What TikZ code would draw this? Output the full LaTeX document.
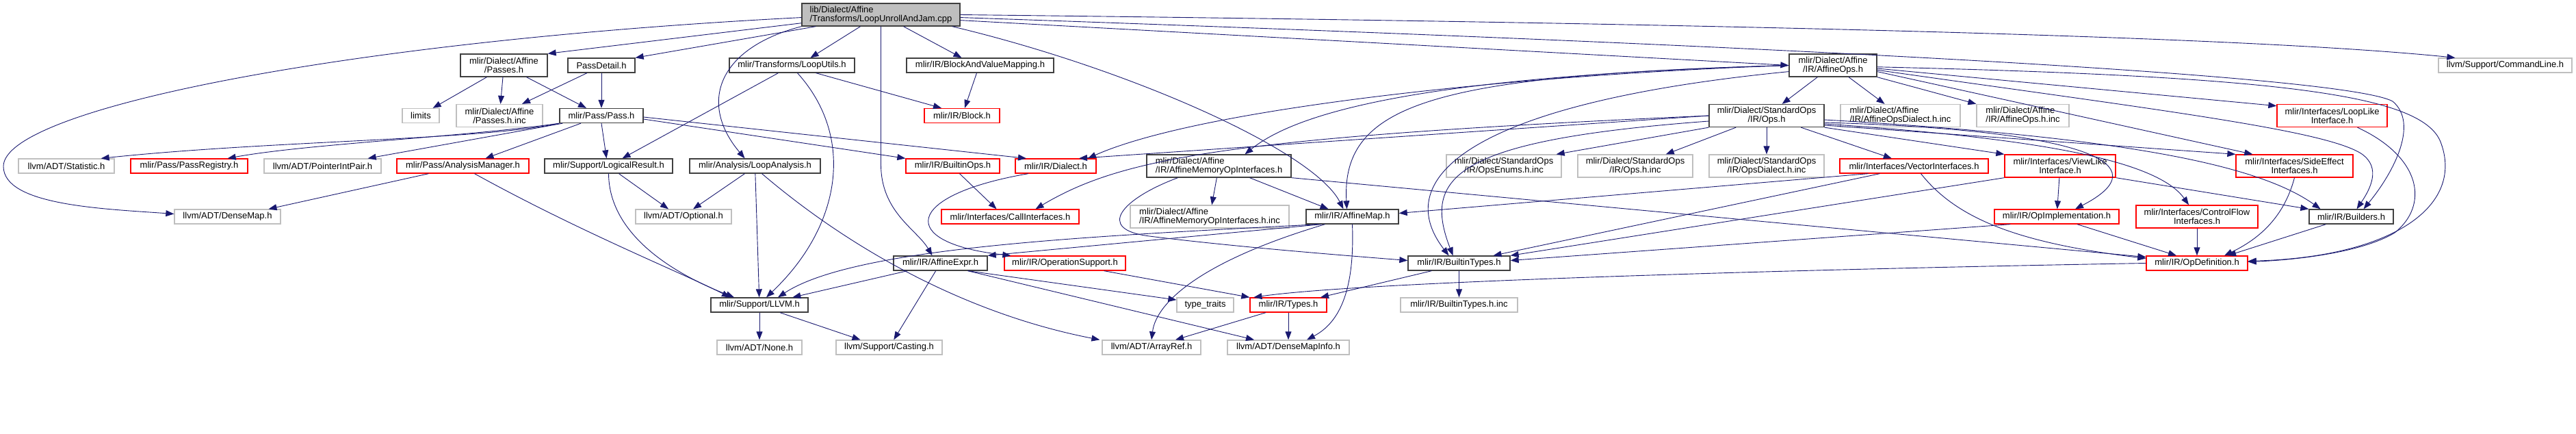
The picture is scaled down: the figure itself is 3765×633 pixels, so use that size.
\documentclass[tikz,border=0pt]{standalone}
\usepackage{fontspec}
\setmainfont{Liberation Sans}
\usetikzlibrary{arrows.meta}
\definecolor{edgeblue}{HTML}{191970}
\definecolor{boxdark}{HTML}{404040}
\definecolor{boxgray}{HTML}{BFBFBF}
\definecolor{boxred}{HTML}{FF0000}

\begin{document}
\begin{tikzpicture}[x=1pt, y=-1pt,
    hdr/.style={rectangle, draw, line width=1.3pt, inner sep=0pt, minimum height=21pt,
        font=\fontsize{13}{13}\selectfont},
    doc/.style={hdr, draw=boxdark},
    ext/.style={hdr, draw=boxgray},
    trunc/.style={hdr, draw=boxred},
    two/.style={minimum height=33pt, align=center},
    twol/.style={minimum height=33pt, align=left},
    incl/.style={-{Triangle[length=12pt, width=9pt]}, draw=edgeblue, line width=0.9pt}]

    \useasboundingbox (0,0) rectangle (3765,633);

    % Source file
    \node[hdr, draw=boxdark, fill=boxgray, twol, minimum width=231pt] (root) at (1287.5,21.5) {lib/Dialect/Affine\\/Transforms/LoopUnrollAndJam.cpp};

    % Row 1
    \node[doc, two, minimum width=127pt] (passes) at (736.5,95.5) {mlir/Dialect/Affine\\/Passes.h};
    \node[doc, minimum width=98pt] (passdetail) at (879,95.5) {PassDetail.h};
    \node[doc, minimum width=183pt] (looputils) at (1157.5,95.5) {mlir/Transforms/LoopUtils.h};
    \node[doc, minimum width=215pt] (bvmap) at (1432.5,95.5) {mlir/IR/BlockAndValueMapping.h};
    \node[doc, two, minimum width=128pt] (affineops) at (2679,95.5) {mlir/Dialect/Affine\\/IR/AffineOps.h};
    \node[ext, minimum width=195pt] (cmdline) at (3661.5,95.5) {llvm/Support/CommandLine.h};

    % Row 2
    \node[ext, minimum width=54pt] (limits) at (615,169) {limits};
    \node[ext, two, minimum width=126pt] (passesinc) at (730,169) {mlir/Dialect/Affine\\/Passes.h.inc};
    \node[doc, minimum width=122pt] (pass) at (879,169) {mlir/Pass/Pass.h};
    \node[trunc, minimum width=110pt] (block) at (1406,169) {mlir/IR/Block.h};
    \node[doc, two, minimum width=168pt] (stdops) at (2582,169) {mlir/Dialect/StandardOps\\/IR/Ops.h};
    \node[ext, twol, minimum width=175pt] (aodialectinc) at (2777.5,169) {mlir/Dialect/Affine\\/IR/AffineOpsDialect.h.inc};
    \node[ext, twol, minimum width=135pt] (aoinc) at (2956.5,169) {mlir/Dialect/Affine\\/IR/AffineOps.h.inc};
    \node[trunc, two, minimum width=161pt] (looplike) at (3408.5,169) {mlir/Interfaces/LoopLike\\Interface.h};

    % Row 3
    \node[ext, minimum width=140pt] (statistic) at (97,242.5) {llvm/ADT/Statistic.h};
    \node[trunc, minimum width=171pt] (passreg) at (276.5,242.5) {mlir/Pass/PassRegistry.h};
    \node[ext, minimum width=171pt] (ptrintpair) at (471.5,242.5) {llvm/ADT/PointerIntPair.h};
    \node[trunc, minimum width=193pt] (analysismgr) at (676.5,242.5) {mlir/Pass/AnalysisManager.h};
    \node[doc, minimum width=187pt] (logicalres) at (889.5,242.5) {mlir/Support/LogicalResult.h};
    \node[doc, minimum width=191pt] (loopanalysis) at (1103.5,242.5) {mlir/Analysis/LoopAnalysis.h};
    \node[trunc, minimum width=137pt] (builtinops) at (1392.5,242.5) {mlir/IR/BuiltinOps.h};
    \node[trunc, minimum width=118pt] (dialect) at (1543,242.5) {mlir/IR/Dialect.h};
    \node[doc, twol, minimum width=211pt] (amoi) at (1781.5,242.5) {mlir/Dialect/Affine\\/IR/AffineMemoryOpInterfaces.h};
    \node[ext, two, minimum width=168pt] (opsenums) at (2198,242.5) {mlir/Dialect/StandardOps\\/IR/OpsEnums.h.inc};
    \node[ext, two, minimum width=168pt] (opsinc) at (2390,242.5) {mlir/Dialect/StandardOps\\/IR/Ops.h.inc};
    \node[ext, two, minimum width=168pt] (opsdialectinc) at (2582,242.5) {mlir/Dialect/StandardOps\\/IR/OpsDialect.h.inc};
    \node[trunc, minimum width=217pt] (vectorif) at (2797.5,242.5) {mlir/Interfaces/VectorInterfaces.h};
    \node[trunc, two, minimum width=162pt] (viewlike) at (3011,242.5) {mlir/Interfaces/ViewLike\\Interface.h};
    \node[trunc, two, minimum width=171pt] (sideeffect) at (3353.5,242.5) {mlir/Interfaces/SideEffect\\Interfaces.h};

    % Row 4
    \node[ext, minimum width=155pt] (densemap) at (332.5,316.5) {llvm/ADT/DenseMap.h};
    \node[ext, minimum width=140pt] (optional) at (999,316.5) {llvm/ADT/Optional.h};
    \node[trunc, minimum width=201pt] (callif) at (1476.5,316.5) {mlir/Interfaces/CallInterfaces.h};
    \node[ext, twol, minimum width=232pt] (amoiinc) at (1768,316.5) {mlir/Dialect/Affine\\/IR/AffineMemoryOpInterfaces.h.inc};
    \node[doc, minimum width=135pt] (affinemap) at (1976.5,316.5) {mlir/IR/AffineMap.h};
    \node[trunc, minimum width=182pt] (opimpl) at (3006,316.5) {mlir/IR/OpImplementation.h};
    \node[trunc, two, minimum width=178pt] (controlflow) at (3211,316.5) {mlir/Interfaces/ControlFlow\\Interfaces.h};
    \node[doc, minimum width=123pt] (builders) at (3436.5,316.5) {mlir/IR/Builders.h};

    % Row 5
    \node[doc, minimum width=137pt] (affineexpr) at (1374.5,384.5) {mlir/IR/AffineExpr.h};
    \node[trunc, minimum width=177pt] (opsupport) at (1556.5,384.5) {mlir/IR/OperationSupport.h};
    \node[doc, minimum width=149pt] (builtintypes) at (2132.5,384.5) {mlir/IR/BuiltinTypes.h};
    \node[trunc, minimum width=148pt] (opdef) at (3211,384.5) {mlir/IR/OpDefinition.h};

    % Row 6
    \node[doc, minimum width=142pt] (llvmh) at (1110,445.5) {mlir/Support/LLVM.h};
    \node[ext, minimum width=83pt] (typetraits) at (1761.5,445.5) {type\_traits};
    \node[trunc, minimum width=112pt] (types) at (1883,445.5) {mlir/IR/Types.h};
    \node[ext, minimum width=171pt] (builtintypesinc) at (2132.5,445.5) {mlir/IR/BuiltinTypes.h.inc};

    % Row 7
    \node[ext, minimum width=124pt] (none) at (1110,507.5) {llvm/ADT/None.h};
    \node[ext, minimum width=155pt] (casting) at (1299.5,507.5) {llvm/Support/Casting.h};
    \node[ext, minimum width=144pt] (arrayref) at (1683,507.5) {llvm/ADT/ArrayRef.h};
    \node[ext, minimum width=178pt] (densemapinfo) at (1883,507.5) {llvm/ADT/DenseMapInfo.h};

    % Arrows from the source file
    \draw[incl] (root.182) .. controls (500,60) and (5,160) .. (5,243) .. controls (5,300) and (150,305) .. ([yshift=4pt]densemap.west);
    \draw[incl] (root.186) -- (passes.north east);
    \draw[incl] ([xshift=21pt]root.south west) -- (passdetail.north east);
    \draw[incl] (root.south west) .. controls (1050,70) and (1020,150) .. ([xshift=-15pt]loopanalysis.north);
    \draw[incl] ([xshift=-30pt]root.south) -- ([xshift=27pt]looputils.north);
    \draw[incl] (root.south) -- (1287.5,240) .. controls (1287.5,310) and (1340,335) .. ([xshift=-12pt]affineexpr.north);
    \draw[incl] ([xshift=33pt]root.south) -- ([xshift=-27pt]bvmap.north);
    \draw[incl] ([xshift=-12pt]root.south east) .. controls (1650,100) and (1920,220) .. ([xshift=-13pt]affinemap.north);
    \draw[incl] (root.-4) -- (affineops.west);
    \draw[incl] (root.east) .. controls (2600,35) and (3300,55) .. ([xshift=25pt]cmdline.north west);
    \draw[incl] (root.-2) .. controls (2700,70) and (3430,112) .. (3497,148) .. controls (3535,180) and (3500,250) .. ([xshift=18pt]builders.north);

    % Passes
    \draw[incl] ([xshift=-25pt]passes.south) -- ([xshift=-10pt]limits.north east);
    \draw[incl] (passes) -- (passesinc);
    \draw[incl] ([xshift=33pt]passes.south) -- ([xshift=-22pt]pass.north);
    \draw[incl] ([xshift=-21pt]passdetail.south) -- ([xshift=33pt]passesinc.north);
    \draw[incl] (passdetail) -- (pass);

    % Pass
    \draw[incl] (pass.south west) .. controls (700,205) and (400,205) .. ([xshift=-20pt]statistic.north east);
    \draw[incl] (pass.south west) .. controls (680,200) and (450,210) .. ([xshift=-30pt]passreg.north east);
    \draw[incl] ([xshift=5pt]pass.south west) -- ([xshift=-20pt]ptrintpair.north east);
    \draw[incl] ([xshift=-30pt]pass.south) -- ([xshift=33pt]analysismgr.north);
    \draw[incl] (pass.south) -- ([xshift=-3pt]logicalres.north);
    \draw[incl] ([yshift=-5pt]pass.east) -- (builtinops.north west);
    \draw[incl] ([yshift=-2pt]pass.east) -- ([xshift=-43pt]dialect.north);

    % Analysis manager, logical result, loop utils
    \draw[incl] ([xshift=-50pt]analysismgr.south) -- ([xshift=60pt]densemap.north);
    \draw[incl] ([xshift=17pt]analysismgr.south) .. controls (850,340) and (1000,400) .. ([xshift=-43pt]llvmh.north);
    \draw[incl] ([xshift=15pt]logicalres.south) -- ([xshift=-22pt]optional.north);
    \draw[incl] (logicalres.south) .. controls (890,330) and (960,390) .. ([xshift=-37pt]llvmh.north);
    \draw[incl] ([xshift=-20pt]looputils.south) -- ([xshift=20pt]logicalres.north);
    \draw[incl] ([xshift=8pt]looputils.south) .. controls (1250,200) and (1230,330) .. ([xshift=10pt]llvmh.north);
    \draw[incl] ([xshift=35pt]looputils.south) -- ([xshift=-30pt]block.north);
    \draw[incl] ([xshift=-5pt]bvmap.south) -- ([xshift=4pt]block.north);

    % Loop analysis
    \draw[incl] ([xshift=-15pt]loopanalysis.south) -- ([xshift=14pt]optional.north);
    \draw[incl] (loopanalysis) -- (llvmh);
    \draw[incl] ([xshift=10pt]loopanalysis.south) .. controls (1250,370) and (1420,460) .. ([xshift=-3pt]arrayref.north west);

    % Builtin ops, dialect
    \draw[incl] ([xshift=10pt]builtinops.south) -- ([xshift=-20pt]callif.north);
    \draw[incl] ([xshift=-40pt]dialect.south) .. controls (1320,285) and (1310,355) .. ([xshift=10pt]opsupport.north west);

    % Affine memory op interfaces
    \draw[incl] (amoi) -- (amoiinc);
    \draw[incl] ([xshift=45pt]amoi.south) -- ([xshift=-35pt]affinemap.north);
    \draw[incl] ([xshift=-60pt]amoi.south) .. controls (1640,290) and (1600,335) .. (1680,345) .. controls (1800,360) and (1950,372) .. ([yshift=4pt]builtintypes.west);
    \draw[incl] (amoi.south east) -- ([yshift=9pt]opdef.west);

    % Affine ops
    \draw[incl] (affineops) -- (stdops);
    \draw[incl] (affineops) -- (aodialectinc);
    \draw[incl] (affineops.south east) -- (aoinc.north west);
    \draw[incl] (affineops.west) .. controls (2200,110) and (1750,160) .. ([xshift=47pt]dialect.north);
    \draw[incl] (affineops.west) .. controls (2100,110) and (1900,160) .. ([xshift=38pt]amoi.north);
    \draw[incl] (affineops.west) .. controls (2100,110) and (1960,150) .. ([xshift=-8pt]affinemap.north);
    \draw[incl] (affineops.188) .. controls (2150,150) and (2030,260) .. ([xshift=-15pt]builtintypes.north);
    \draw[incl] (affineops.-4) -- (looplike.170);
    \draw[incl] (affineops.-8) -- ([xshift=25pt]sideeffect.north west);
    \draw[incl] (affineops.-6) .. controls (3150,160) and (3400,190) .. (3452,225) .. controls (3480,245) and (3465,275) .. ([xshift=8pt]builders.north);
    \draw[incl] (affineops.-2) .. controls (3350,112) and (3545,140) .. (3568,210) .. controls (3600,300) and (3500,375) .. ([yshift=3pt]opdef.east);

    % Standard ops
    \draw[incl] (stdops.south west) -- ([xshift=-8pt]opsenums.north east);
    \draw[incl] (stdops) -- (opsinc);
    \draw[incl] (stdops) -- (opsdialectinc);
    \draw[incl] (stdops) -- (vectorif);
    \draw[incl] (stdops.south east) -- (viewlike.north west);
    \draw[incl] (stdops.west) -- ([xshift=34pt]dialect.north);
    \draw[incl] (stdops.west) .. controls (1800,200) and (1640,230) .. ([xshift=37pt]callif.north);
    \draw[incl] ([yshift=-8pt]stdops.west) .. controls (2120,205) and (2080,260) .. ([xshift=-9pt]builtintypes.north);
    \draw[incl] ([yshift=-10pt]stdops.east) .. controls (3050,190) and (3160,240) .. ([xshift=27pt]opimpl.north);
    \draw[incl] ([yshift=-12pt]stdops.east) .. controls (2950,200) and (3150,230) .. ([xshift=-12pt]controlflow.north);
    \draw[incl] ([yshift=-14pt]stdops.east) -- (sideeffect.north west);
    \draw[incl] ([yshift=-6pt]stdops.east) .. controls (3100,200) and (3300,240) .. ([xshift=-45pt]builders.north);

    % Interfaces
    \draw[incl] ([xshift=-67pt]vectorif.south) -- ([yshift=5pt]affinemap.east);
    \draw[incl] ([xshift=-50pt]vectorif.south) -- ([xshift=50pt]builtintypes.north);
    \draw[incl] ([xshift=10pt]vectorif.south) .. controls (2860,320) and (2950,355) .. ([yshift=7pt]opdef.west);
    \draw[incl] (viewlike) -- (opimpl);
    \draw[incl] (viewlike.south west) -- (builtintypes.north east);
    \draw[incl] (viewlike.south east) -- (builders.north west);
    \draw[incl] ([xshift=-68pt]opimpl.south) -- ([yshift=4pt]builtintypes.east);
    \draw[incl] ([xshift=30pt]opimpl.south) -- ([xshift=-30pt]opdef.north);
    \draw[incl] (controlflow) -- (opdef);
    \draw[incl] (sideeffect.south) .. controls (3340,310) and (3310,345) .. ([xshift=40pt]opdef.north);
    \draw[incl] ([xshift=37pt]looplike.south) .. controls (3540,230) and (3550,300) .. (3500,340) .. controls (3450,370) and (3350,380) .. ([yshift=2pt]opdef.east);
    \draw[incl] ([xshift=-37pt]builders.south) -- ([xshift=45pt]opdef.north);

    % IR core
    \draw[incl] (opdef.west) .. controls (2700,392) and (2000,410) .. ([xshift=6pt]types.north west);
    \draw[incl] (builtintypes) -- (builtintypesinc);
    \draw[incl] ([xshift=-40pt]builtintypes.south) -- ([xshift=47pt]types.north);
    \draw[incl] ([xshift=57pt]opsupport.south) -- (types.north west);
    \draw[incl] ([xshift=-45pt]affinemap.south) -- (affineexpr.north east);
    \draw[incl] ([xshift=-50pt]affinemap.south) .. controls (1600,345) and (1250,360) .. ([xshift=27pt]llvmh.north);
    \draw[incl] ([xshift=-40pt]affinemap.south) .. controls (1760,380) and (1690,440) .. (arrayref.north);
    \draw[incl] (affinemap.south) .. controls (1980,420) and (1960,470) .. ([xshift=27pt]densemapinfo.north);
    \draw[incl] (affineexpr) -- (llvmh);
    \draw[incl] (affineexpr) -- (casting);
    \draw[incl] ([xshift=40pt]affineexpr.south) -- (typetraits.170);
    \draw[incl] ([xshift=40pt]affineexpr.south) -- ([xshift=-50pt]densemapinfo.north);

    % Support
    \draw[incl] (llvmh) -- (none);
    \draw[incl] ([xshift=30pt]llvmh.south) -- ([xshift=-42pt]casting.north);
    \draw[incl] ([xshift=-33pt]types.south) -- ([xshift=35pt]arrayref.north);
    \draw[incl] (types) -- (densemapinfo);

\end{tikzpicture}
\end{document}
